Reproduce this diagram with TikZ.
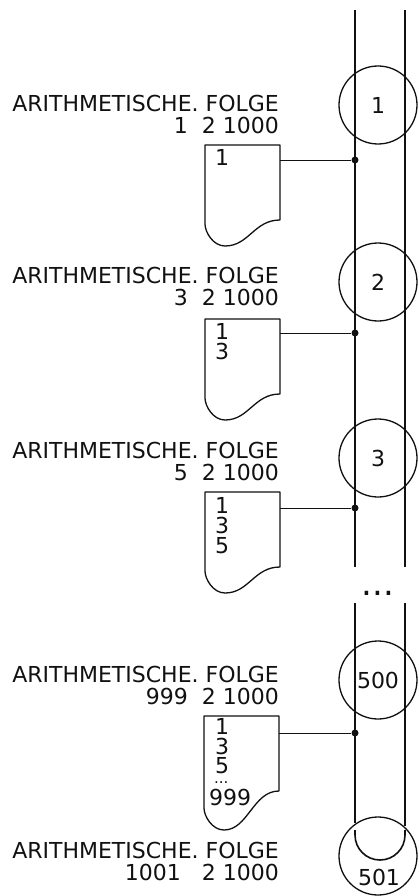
\documentclass[tikz,border=0pt]{standalone}
\usepackage{fontspec}
\setmainfont{DejaVu Sans}
\usepackage{tikz}
\usetikzlibrary{positioning, calc}
\definecolor{inkK}{HTML}{111111}
\newcommand{\plotfont}{\fontsize{22}{26}\selectfont}
% sheet outline with the torn bottom edge, hung on a sheet node
\newcommand{\drawsheet}[1]{%
  \draw[sheetline] (#1.north west) -- (#1.north east) -- ([yshift=-75pt]#1.north east)
    .. controls +(-26pt,0pt) and +(24pt,0pt) .. ([xshift=20pt]#1.south west)
    .. controls +(-12pt,0pt) and +(0pt,-8pt) .. ([yshift=22pt]#1.south west) -- cycle;}

\begin{document}
\begin{tikzpicture}[x=1pt, y=-1pt,
  rail/.style={inkK, line width=1.6pt},
  stage/.style={circle, draw=inkK, line width=1.3pt, minimum size=78pt, inner sep=0pt, font=\plotfont, text=inkK},
  call/.style={anchor=base east, inner sep=0pt, font=\plotfont, text=inkK},
  sheet/.style={anchor=north west, minimum width=75pt, inner sep=0pt, outer sep=0pt},
  sheetline/.style={inkK, line width=1.3pt, line join=round},
  entry/.style={anchor=base west, inner sep=0pt, font=\plotfont, text=inkK},
  joint/.style={circle, fill=inkK, minimum size=7pt, inner sep=0pt},
  wire/.style={inkK, line width=0.9pt}]
\useasboundingbox (0,0) rectangle (418,896);

% the two rails
\draw[rail] (355,10) -- (355,567);
\draw[rail] (405,10) -- (405,567);
\node[font=\fontsize{34}{34}\selectfont, text=inkK, anchor=base, inner sep=0pt] (skip) at (378,595) {...};
\draw[rail] (355,603) -- (355,823);
\draw[rail] (405,603) -- (405,826);
\draw[rail] (355,830) -- (355,835) arc[start angle=180, end angle=360, radius=25pt] -- (405,830);

% calls
\node[stage] (c1) at (378,105) {1};
\node[call] (f1) at (279,112) {ARITHMETISCHE. FOLGE};
\node[call] (g1) at (279,134) {1\ \ 2 1000};
\node[sheet, minimum height=101pt] (s1) at (205,145) {};
\drawsheet{s1}
\node[entry] (e1a) at (215,166) {1};
\node[joint] (j1) at (355,160) {};
\draw[wire] (s1.east |- j1) -- (j1);

\node[stage] (c2) at (378,282) {2};
\node[call] (f2) at (279,283) {ARITHMETISCHE. FOLGE};
\node[call] (g2) at (279,305) {3\ \ 2 1000};
\node[sheet, minimum height=101pt] (s2) at (205,319) {};
\drawsheet{s2}
\node[entry] (e2a) at (215,339) {1};
\node[entry] (e2b) at (215,359) {3};
\node[joint] (j2) at (355,333) {};
\draw[wire] (s2.east |- j2) -- (j2);

\node[stage] (c3) at (378,458) {3};
\node[call] (f3) at (279,458) {ARITHMETISCHE. FOLGE};
\node[call] (g3) at (279,480) {5\ \ 2 1000};
\node[sheet, minimum height=101pt] (s3) at (205,492) {};
\drawsheet{s3}
\node[entry] (e3a) at (215,513) {1};
\node[entry] (e3b) at (215,533) {3};
\node[entry] (e3c) at (215,553) {5};
\node[joint] (j3) at (355,508) {};
\draw[wire] (s3.east |- j3) -- (j3);

\node[stage] (c500) at (378,680) {500};
\node[call] (f4) at (279,682) {ARITHMETISCHE. FOLGE};
\node[call] (g4) at (279,704) {999\ \ 2 1000};
\node[sheet, minimum height=114pt] (s4) at (204,716) {};
\drawsheet{s4}
\node[entry] (e4a) at (215,734) {1};
\node[entry] (e4b) at (215,754) {3};
\node[entry] (e4c) at (215,773) {5};
\node[entry, font=\fontsize{15}{15}\selectfont] (e4d) at (214,783) {...};
\node[entry] (e4e) at (209,805) {999};
\node[joint] (j4) at (355,733) {};
\draw[wire] (s4.east |- j4) -- (j4);

\node[stage] (c501) at (378,856) {};
\node[font=\plotfont, text=inkK, anchor=base, inner sep=0pt] (n501) at (379,885) {501};
\node[call] (f5) at (279,858) {ARITHMETISCHE. FOLGE};
\node[call] (g5) at (279,880) {1001\ \ \ 2 1000};
\end{tikzpicture}
\end{document}
